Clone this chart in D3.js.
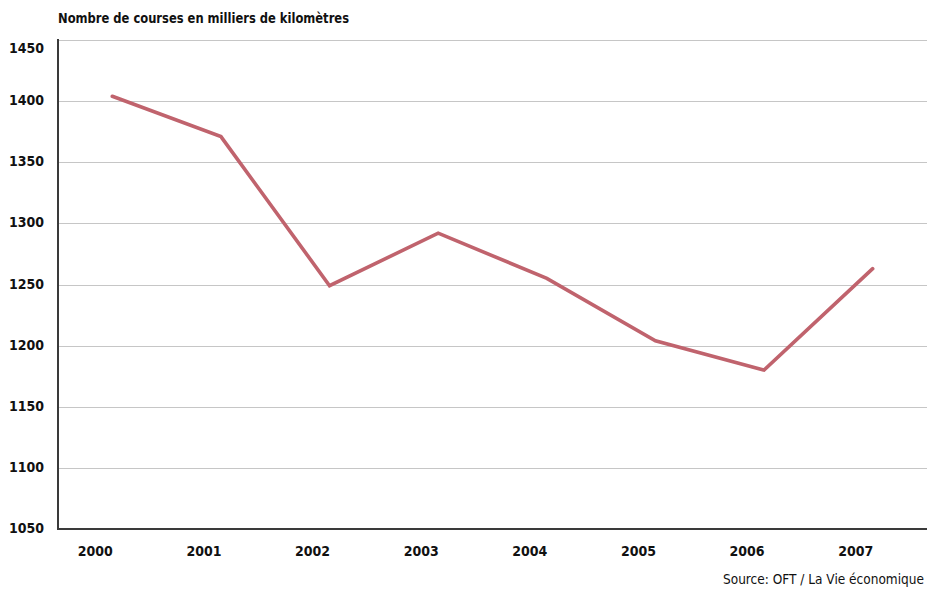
<!DOCTYPE html>
<html>
<head>
<meta charset="utf-8">
<script src="https://cdn.jsdelivr.net/npm/d3@7"></script>
<style>
  html, body { margin: 0; padding: 0; background: #fff; }
  svg text { font-family: "DejaVu Sans Condensed", "Liberation Sans Narrow", "Open Sans", sans-serif; fill: #111; }
</style>
</head>
<body>
<svg id="chart" width="927" height="590"></svg>
<script>
// Trips in thousands of kilometres, 2000–2007
const years = ["2000", "2001", "2002", "2003", "2004", "2005", "2006", "2007"];
const values = [1404, 1371, 1249, 1292, 1255, 1204, 1180, 1263];
const yTicks = [1050, 1100, 1150, 1200, 1250, 1300, 1350, 1400, 1450];

const title = "Nombre de courses en milliers de kilomètres";
const source = "Source: OFT / La Vie économique";

const svg = d3.select("#chart");
const margin = { left: 58, right: 0, top: 40, bottom: 61 };
const W = 927, H = 590;

const x = d3.scaleBand().domain(years).range([margin.left, W - margin.right]);
const y = d3.scaleLinear().domain([1050, 1450]).range([H - margin.bottom, margin.top]);

// horizontal gridlines
svg.append("g")
  .selectAll("line")
  .data(yTicks.filter(t => t > 1050))
  .join("line")
  .attr("x1", margin.left).attr("x2", W)
  .attr("y1", d => Math.round(y(d)) + 0.5).attr("y2", d => Math.round(y(d)) + 0.5)
  .attr("stroke", "#c6c6c6").attr("stroke-width", 1.2);

// y axis labels (the top one is nudged below its gridline, clear of the title)
const yAxis = d3.axisLeft(y).tickValues(yTicks).tickSize(0).tickPadding(14).tickFormat(d3.format("d"));
const gy = svg.append("g").attr("transform", `translate(${margin.left},0)`).call(yAxis);
gy.select(".domain").remove();
gy.selectAll("text").attr("font-size", 14).attr("font-weight", "bold")
  .attr("dy", d => d === 1450 ? "0.9em" : "0.25em");
gy.attr("font-family", null);

// x axis labels
const xAxis = d3.axisBottom(x).tickSize(0).tickPadding(17);
const gx = svg.append("g").attr("transform", `translate(0,${H - margin.bottom})`).call(xAxis);
gx.select(".domain").remove();
gx.selectAll("text").attr("font-size", 14).attr("font-weight", "bold").attr("dx", -17);
gx.attr("font-family", null);

// axis lines
svg.append("line")
  .attr("x1", margin.left).attr("x2", margin.left)
  .attr("y1", margin.top - 1).attr("y2", y(1050) + 1)
  .attr("stroke", "#3a3a3a").attr("stroke-width", 2);
svg.append("line")
  .attr("x1", margin.left).attr("x2", W)
  .attr("y1", y(1050)).attr("y2", y(1050))
  .attr("stroke", "#3a3a3a").attr("stroke-width", 2);

// data line
const line = d3.line()
  .x((d, i) => x(years[i]) + x.bandwidth() / 2)
  .y(d => y(d));
svg.append("path")
  .datum(values)
  .attr("d", line)
  .attr("fill", "none")
  .attr("stroke", "#c0636d")
  .attr("stroke-width", 3.6)
  .attr("stroke-linejoin", "miter")
  .attr("stroke-linecap", "round");

// title
svg.append("text")
  .attr("x", margin.left).attr("y", 23)
  .attr("font-size", 14).attr("font-weight", "bold")
  .attr("textLength", 291).attr("lengthAdjust", "spacingAndGlyphs")
  .text(title);

// source
svg.append("text")
  .attr("x", W - 3).attr("y", 584)
  .attr("text-anchor", "end")
  .attr("font-size", 13.5)
  .attr("textLength", 201).attr("lengthAdjust", "spacingAndGlyphs")
  .text(source);
</script>
</body>
</html>
